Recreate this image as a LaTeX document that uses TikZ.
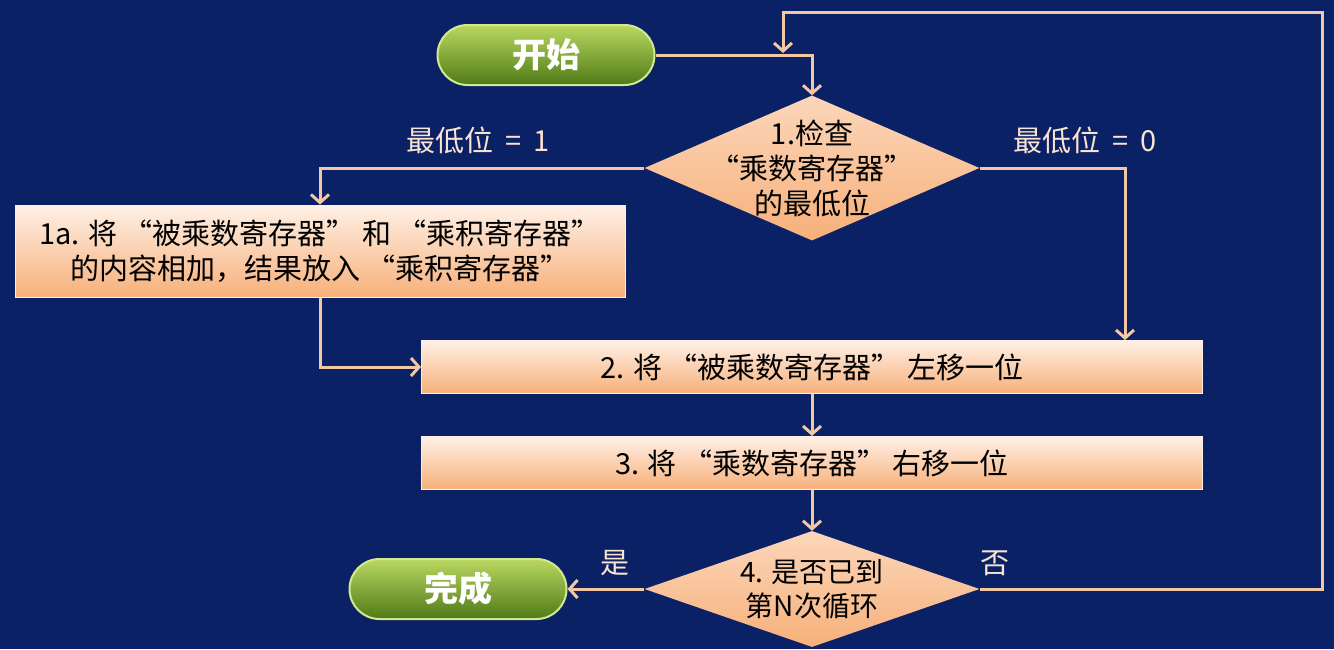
\documentclass[tikz,border=0pt]{standalone}
\usepackage{fontspec}
\setmainfont{Noto Sans CJK SC}
\usetikzlibrary{shapes.geometric}
\usetikzlibrary{arrows.meta}

\definecolor{bgblue}{HTML}{0B2166}
\definecolor{wire}{HTML}{F3C7A3}
\definecolor{peachtop}{HTML}{FEF0E6}
\definecolor{peachbot}{HTML}{F7B07A}
\definecolor{greentop}{HTML}{BAD860}
\definecolor{greenbot}{HTML}{4F7A17}
\definecolor{greenrim}{HTML}{D2E98E}

\tikzset{
    stepbox/.style={rectangle, top color=peachtop, bottom color=peachbot,
      draw=peachtop, line width=1pt, inner sep=0pt, align=center,
      font=\fontsize{29}{35}\selectfont},
    test/.style={diamond, top color=peachtop!60!peachbot, bottom color=peachbot,
      inner sep=0pt, minimum width=335pt},
    endpoint/.style={rectangle, rounded corners=30pt, top color=greentop,
      bottom color=greenbot, draw=greenrim, line width=2pt,
      minimum width=217pt, minimum height=60pt, text=white,
      font=\fontsize{34}{34}\selectfont\bfseries},
    wirelabel/.style={text=wire!50!white, font=\fontsize{29}{29}\selectfont},
    flow/.style={draw=wire, line width=3pt,
      -{Straight Barb[length=8pt,width=18pt]}}
}

\begin{document}
\begin{tikzpicture}[x=1pt,y=-1pt]
    \fill[bgblue] (0,0) rectangle (1334,649);

    \node[endpoint] (start) at (546,55) {开始};
    \node[endpoint] (done) at (458,589) {完成};

    \node[test,minimum height=145pt] (chk) at (812,168) {};
    \node[align=center,font=\fontsize{29}{35}\selectfont] (chktext) at (chk)
    {1.检查\\“乘数寄存器”\\的最低位};

    \node[stepbox,minimum width=610pt,minimum height=92pt] (add) at (320,251)
    {1a. 将 “被乘数寄存器” 和 “乘积寄存器”\\的内容相加，结果放入 “乘积寄存器”};
    \node[stepbox,minimum width=781pt,minimum height=53pt] (shl) at (812,367)
    {2. 将 “被乘数寄存器” 左移一位};
    \node[stepbox,minimum width=781pt,minimum height=53pt] (shr) at (812,463)
    {3. 将 “乘数寄存器” 右移一位};

    \node[test,minimum height=116pt] (fin) at (812,589) {};
    \node[align=center,font=\fontsize{28}{34}\selectfont] (fintext) at (fin)
    {4. 是否已到\\第N次循环};

    \node[wirelabel] (lsb1) at (478,140) {最低位\hspace{0.4em}=\hspace{0.4em}1};
    \node[wirelabel] (lsb0) at (1085,140) {最低位\hspace{0.4em}=\hspace{0.4em}0};
    \node[wirelabel] (yes) at (615,563) {是};
    \node[wirelabel] (no) at (995,563) {否};

    \coordinate (loopup) at (1322,12);
    \coordinate (loopin) at (783,53);
    \coordinate (right0) at ([xshift=-78pt]shl.north east);

    \draw[flow] (start.east) -| (chk.north);
    \draw[flow] (chk.west) -| (add.north);
    \draw[flow] (chk.east) -| (right0);
    \draw[flow] (add.south) |- (shl.west);
    \draw[flow] (shl.south) -- (shr.north);
    \draw[flow] (shr.south) -- (fin.north);
    \draw[flow] (fin.west) -- (done.east);
    \draw[flow] (fin.east) -| (loopup) -| (loopin);

  \end{tikzpicture}
\end{document}
